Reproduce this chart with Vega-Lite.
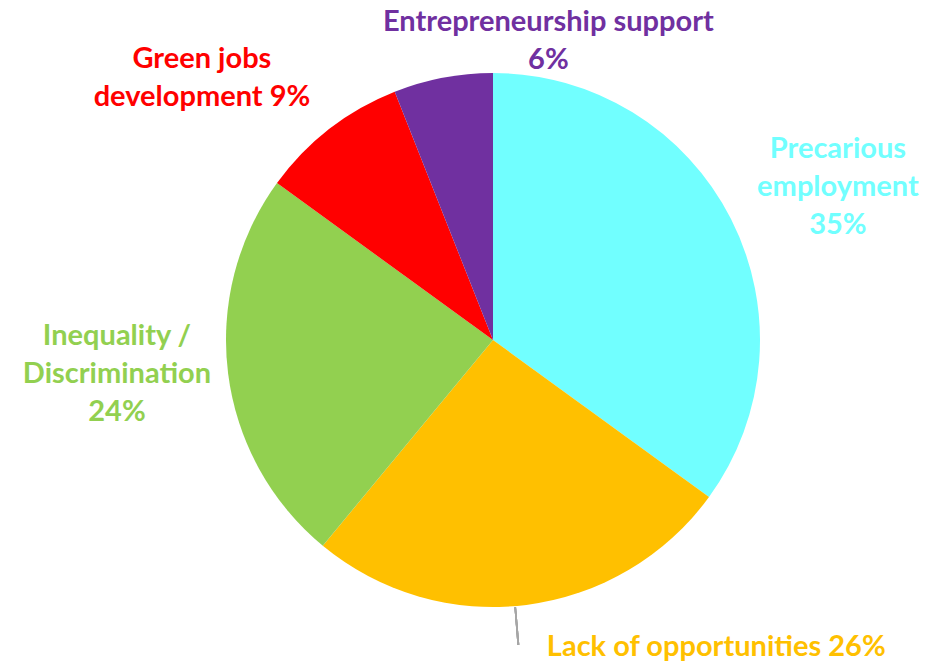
{
  "$schema": "https://vega.github.io/schema/vega-lite/v6.json",
  "autosize": {"type": "none"},
  "width": 870,
  "height": 648,
  "padding": {"left": 58, "right": 0, "top": 16, "bottom": 0},
  "background": "white",
  "config": {"view": {"stroke": null}, "text": {"font": "Lato", "fontWeight": "bold", "fontSize": 29, "lineHeight": 38}},
  "data": {
    "values": [
      {"order": 1, "category": "Precarious employment", "value": 35, "label": "Precarious\nemployment\n35%"},
      {"order": 2, "category": "Lack of opportunities", "value": 26, "label": "Lack of opportunities 26%"},
      {"order": 3, "category": "Inequality / Discrimination", "value": 24, "label": "Inequality /\nDiscrimination\n24%"},
      {"order": 4, "category": "Green jobs development", "value": 9, "label": "Green jobs\ndevelopment 9%"},
      {"order": 5, "category": "Entrepreneurship support", "value": 6, "label": "Entrepreneurship support\n6%"}
    ]
  },
  "encoding": {
    "theta": {"field": "value", "type": "quantitative", "stack": true},
    "order": {"field": "order", "type": "quantitative", "sort": "ascending"},
    "color": {
      "field": "category",
      "type": "nominal",
      "legend": null,
      "scale": {
        "domain": ["Precarious employment", "Lack of opportunities", "Inequality / Discrimination", "Green jobs development", "Entrepreneurship support"],
        "range": ["#71FFFF", "#FFC000", "#92D050", "#FF0000", "#7030A0"]
      }
    }
  },
  "layer": [
    {"mark": {"type": "arc", "outerRadius": 267}},
    {
      "mark": {"type": "arc", "theta": 3.0556, "theta2": 3.0616, "radius": 268, "radius2": 306, "fill": "#A6A6A6", "color": "#A6A6A6"},
      "encoding": {"theta": null, "order": null, "color": null}
    },
    {
      "mark": {"type": "text", "radius": 377, "dx": 9, "dy": -20, "lineBreak": "\n", "baseline": "middle", "align": "center"},
      "encoding": {"text": {"condition": {"test": "datum.order === 1", "field": "label"}, "value": ""}}
    },
    {
      "mark": {"type": "text", "radius": 377, "dx": 176, "dy": -67, "lineBreak": "\n", "baseline": "middle", "align": "center"},
      "encoding": {"text": {"condition": {"test": "datum.order === 2", "field": "label"}, "value": ""}}
    },
    {
      "mark": {"type": "text", "radius": 377, "dx": -2, "dy": -51, "lineBreak": "\n", "baseline": "middle", "align": "center"},
      "encoding": {"text": {"condition": {"test": "datum.order === 3", "field": "label"}, "value": ""}}
    },
    {
      "mark": {"type": "text", "radius": 377, "dx": -60, "dy": 17, "lineBreak": "\n", "baseline": "middle", "align": "center"},
      "encoding": {"text": {"condition": {"test": "datum.order === 4", "field": "label"}, "value": ""}}
    },
    {
      "mark": {"type": "text", "radius": 377, "dx": 126, "dy": 52, "lineBreak": "\n", "baseline": "middle", "align": "center"},
      "encoding": {"text": {"condition": {"test": "datum.order === 5", "field": "label"}, "value": ""}}
    }
  ]
}
